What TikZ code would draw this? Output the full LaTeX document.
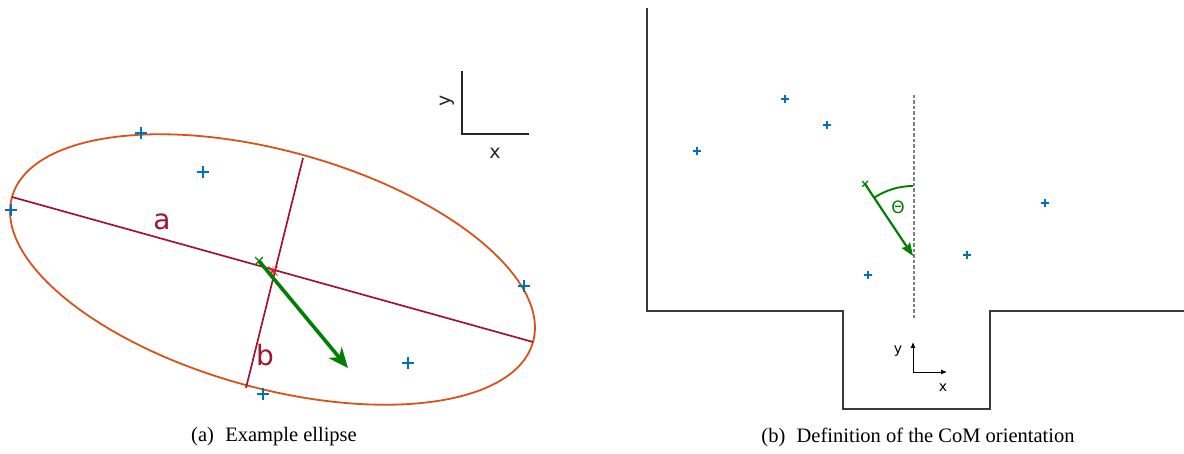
\documentclass[tikz,border=0pt]{standalone}
\usepackage{fontspec}
\setmainfont{Liberation Serif}
\newfontfamily\dejavu{DejaVu Sans}
\usetikzlibrary{arrows.meta}
\definecolor{mblue}{HTML}{0072BD}
\definecolor{morange}{HTML}{D95319}
\definecolor{mred}{HTML}{A2142F}
\definecolor{mstar}{HTML}{E0202A}
\definecolor{mgreen}{HTML}{008000}
\definecolor{wall}{HTML}{3A3A3A}
\definecolor{axcol}{HTML}{262626}
\begin{document}
\begin{tikzpicture}[x=1pt,y=-1pt,
  plusmark/.style={inner sep=0pt, minimum size=#1, path picture={
      \draw[mblue, line width=1.7pt] (path picture bounding box.north) -- (path picture bounding box.south)
        (path picture bounding box.west) -- (path picture bounding box.east);}},
  bigplus/.style={plusmark=12pt},
  smallplus/.style={plusmark=8pt},
  xmark/.style={inner sep=0pt, minimum size=#1, path picture={
      \draw[mgreen, line width=1.1pt] (path picture bounding box.north west) -- (path picture bounding box.south east)
        (path picture bounding box.south west) -- (path picture bounding box.north east);}},
  starmark/.style={inner sep=0pt, minimum size=9pt, path picture={
      \draw[mstar, line width=0.8pt] (path picture bounding box.north west) -- (path picture bounding box.south east)
        (path picture bounding box.south west) -- (path picture bounding box.north east)
        (path picture bounding box.north) -- (path picture bounding box.south)
        (path picture bounding box.west) -- (path picture bounding box.east);}},
  axisline/.style={mred, line width=1.7pt},
  axlabel/.style={text=mred, font=\dejavu\fontsize{28}{32}\selectfont, inner sep=0pt},
  frameline/.style={axcol, line width=1.3pt},
  framelabel/.style={text=axcol, font=\dejavu\fontsize{19}{22}\selectfont, inner sep=0pt},
  wallline/.style={wall, line width=1.9pt},
  smalllabel/.style={text=black, font=\dejavu\fontsize{14}{16}\selectfont, inner sep=0pt},
  caption/.style={font=\fontsize{20.5}{24}\selectfont, inner sep=0pt}
]
\useasboundingbox (0,0) rectangle (1184,454);

% ---------------- (a) ----------------
\draw[morange, line width=1.8pt, rotate around={-15.55:(272.5,269.5)}]
  (272.5,269.5) ellipse[x radius=270.4, y radius=118.5];

\coordinate (ma1) at (12,197);
\coordinate (ma2) at (533,342);
\coordinate (mi1) at (303,158);
\coordinate (mi2) at (246,388);
\draw[axisline] (ma1) -- (ma2);
\draw[axisline] (mi1) -- (mi2);
\node[axlabel] (la) at (162,222) {a};
\node[axlabel] (lb) at (265,355) {b};

\node[bigplus] (p1) at (141,133) {};
\node[bigplus] (p2) at (203,172) {};
\node[bigplus] (p3) at (11,210) {};
\node[bigplus] (p4) at (524,286) {};
\node[bigplus] (p5) at (408,363) {};
\node[bigplus] (p6) at (263,394) {};

\node[starmark] (cen) at (273,271) {};
\node[xmark=8pt] (gx) at (259,261) {};
\coordinate (gt) at (348,368);
\draw[mgreen, line width=3.6pt, -{Stealth[length=20pt, width=17pt, inset=6pt]}] (gx.center) -- (gt);

\coordinate (fy) at (462,71);
\coordinate (fo) at (462,134);
\coordinate (fx) at (529,134);
\draw[frameline] (fy) -- (fo) -- (fx);
\node[framelabel, rotate=90] (fly) at (447,101) {y};
\node[framelabel] (flx) at (495,153) {x};

\node[caption] (capa) at (274,437) {(a)\hspace{0.55em}Example ellipse};

% ---------------- (b) ----------------
\coordinate (w1) at (647,8);
\coordinate (w2) at (647,311);
\coordinate (w3) at (843,311);
\coordinate (w4) at (843,409);
\coordinate (w5) at (990,409);
\coordinate (w6) at (990,311);
\coordinate (w7) at (1184,311);
\draw[wallline] (w1) -- (w2) -- (w3) -- (w4) -- (w5) -- (w6) -- (w7);

\node[smallplus] (q1) at (697,151) {};
\node[smallplus] (q2) at (785,99) {};
\node[smallplus] (q3) at (827,125) {};
\node[smallplus] (q4) at (868,275) {};
\node[smallplus] (q5) at (967,255) {};
\node[smallplus] (q6) at (1045,203) {};

\coordinate (d1) at (914,95);
\coordinate (d2) at (914,318);
\draw[gray, line width=2pt, dash pattern=on 3.5pt off 2pt] (d1) -- (d2);

\node[xmark=6pt] (hx) at (865,184) {};
\coordinate (ht) at (913,256);
\draw[mgreen, line width=2.1pt, -{Stealth[length=13pt, width=10pt, inset=2pt]}] (hx.center) -- (ht);
\coordinate (arcs) at (913,186);
\draw[mgreen, line width=1.9pt] (arcs) arc[start angle=-90, end angle=-123.7, radius=70];
\node[text=mgreen, font=\dejavu\fontsize{17}{19}\selectfont, inner sep=0pt] (th) at (898,207) {Θ};

\coordinate (so) at (913,372);
\coordinate (sy) at (913,342);
\coordinate (sx) at (947,372);
\draw[black, line width=0.9pt, -{Latex[length=6pt, width=5pt]}] (so) -- (sy);
\draw[black, line width=0.9pt, -{Latex[length=6pt, width=5pt]}] (so) -- (sx);
\node[smalllabel] (sly) at (898,351) {y};
\node[smalllabel] (slx) at (943,388) {x};

\node[caption] (capb) at (918,437) {(b)\hspace{0.55em}Definition of the CoM orientation};
\end{tikzpicture}
\end{document}
